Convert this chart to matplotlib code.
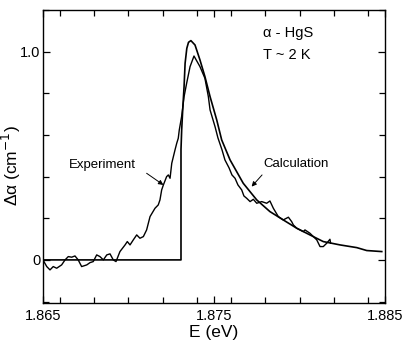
import matplotlib
matplotlib.use("Agg")
import matplotlib.pyplot as plt
from matplotlib.ticker import MultipleLocator, FixedLocator

# measured spectrum (energy in eV, delta alpha in cm^-1)
exp_e = [1.86500, 1.86522, 1.86541, 1.86560, 1.86580, 1.86609, 1.86629, 1.86648,
         1.86668, 1.86687, 1.86706, 1.86726, 1.86756, 1.86775, 1.86794, 1.86814,
         1.86833, 1.86853, 1.86873, 1.86892, 1.86911, 1.86927, 1.86950, 1.86980,
         1.86993, 1.87009, 1.87028, 1.87048, 1.87067, 1.87087, 1.87106, 1.87126,
         1.87155, 1.87174, 1.87184, 1.87194, 1.87204, 1.87223, 1.87233, 1.87243,
         1.87253, 1.87272, 1.87282, 1.87291, 1.87297, 1.87311, 1.87325, 1.87340,
         1.87360, 1.87383, 1.87418, 1.87447, 1.87467, 1.87477, 1.87506, 1.87523,
         1.87547, 1.87564, 1.87588, 1.87605, 1.87623, 1.87640, 1.87662, 1.87675,
         1.87691, 1.87711, 1.87730, 1.87750, 1.87779, 1.87808, 1.87827, 1.87847,
         1.87876, 1.87905, 1.87935, 1.87954, 1.87964, 1.87984, 1.88022, 1.88032,
         1.88061, 1.88101, 1.88120, 1.88139, 1.88159, 1.88178, 1.88182]
exp_v = [0.000, -0.032, -0.048, -0.032, -0.040, -0.024, 0.000, 0.016,
         0.013, 0.019, 0.000, -0.032, -0.024, -0.013, -0.008, 0.024,
         0.016, 0.000, 0.024, 0.029, 0.000, -0.008, 0.040, 0.072,
         0.088, 0.072, 0.096, 0.120, 0.104, 0.112, 0.144, 0.208,
         0.248, 0.264, 0.288, 0.336, 0.360, 0.400, 0.408, 0.392,
         0.464, 0.528, 0.560, 0.584, 0.624, 0.690, 0.784, 0.848,
         0.928, 0.979, 0.928, 0.872, 0.784, 0.720, 0.640, 0.586,
         0.528, 0.480, 0.442, 0.408, 0.392, 0.360, 0.336, 0.307,
         0.296, 0.280, 0.291, 0.272, 0.280, 0.272, 0.283, 0.248,
         0.208, 0.192, 0.205, 0.184, 0.168, 0.152, 0.136, 0.144,
         0.128, 0.096, 0.064, 0.064, 0.080, 0.099, 0.080]

# calculated curve
calc_e = [1.86500, 1.87307, 1.87307, 1.87311, 1.87317, 1.87325, 1.87331, 1.87341,
          1.87351, 1.87365, 1.87389, 1.87418, 1.87447, 1.87477, 1.87516, 1.87545,
          1.87594, 1.87671, 1.87750, 1.87827, 1.87905, 1.87984, 1.88061, 1.88139,
          1.88237, 1.88335, 1.88393, 1.88481]
calc_v = [0.0, 0.0, 0.53, 0.624, 0.72, 0.832, 0.944, 1.016,
          1.045, 1.053, 1.032, 0.960, 0.880, 0.784, 0.672, 0.576,
          0.480, 0.368, 0.288, 0.232, 0.192, 0.152, 0.120, 0.088,
          0.072, 0.059, 0.045, 0.040]

x_ticks = [1.865, 1.875, 1.885]
x_labels = ["1.865", "1.875", "1.885"]
y_ticks = [0.0, 1.0]
y_labels = ["0", "1.0"]

plt.rcParams['font.family'] = ['Liberation Sans', 'DejaVu Sans']

fig = plt.figure(figsize=(4.04, 3.45), dpi=100)
ax = fig.add_axes([0.1064, 0.1217, 0.8466, 0.8493])

ax.plot(exp_e, exp_v, color='black', lw=1.0)
ax.plot(calc_e, calc_v, color='black', lw=1.2)

ax.set_xlim(1.865, 1.885)
ax.set_ylim(-0.207, 1.2)

ax.xaxis.set_major_locator(FixedLocator(x_ticks))
ax.set_xticklabels(x_labels)
ax.xaxis.set_minor_locator(MultipleLocator(0.002))
ax.yaxis.set_major_locator(FixedLocator(y_ticks))
ax.set_yticklabels(y_labels)
ax.yaxis.set_minor_locator(MultipleLocator(0.2))
ax.tick_params(which='both', direction='in', top=True, right=True,
               labelsize=10.5, width=0.9)
ax.tick_params(which='major', length=5)
ax.tick_params(which='minor', length=4)
ax.tick_params(axis='x', pad=4)
ax.tick_params(axis='y', pad=2)
for s in ax.spines.values():
    s.set_linewidth(1.0)

ax.set_xlabel("E (eV)", fontsize=12.5, labelpad=2)
ax.set_ylabel("Δα (cm$^{-1}$)", fontsize=12.5)
ax.yaxis.set_label_coords(-0.058, 0.47)

ax.text(1.87787, 1.09, "α - HgS", fontsize=10.5, va='center', ha='left')
ax.text(1.87787, 0.984, "T ~ 2 K", fontsize=10.5, va='center', ha='left')

ax.text(1.86845, 0.456, "Experiment", fontsize=9.5, ha='center', va='center')
ax.text(1.87980, 0.461, "Calculation", fontsize=9.5, ha='center', va='center')
arrow = dict(arrowstyle='-|>', color='black', lw=0.7, mutation_scale=7,
             shrinkA=0, shrinkB=0)
ax.annotate("", xy=(1.87204, 0.36), xytext=(1.87106, 0.416), arrowprops=arrow)
ax.annotate("", xy=(1.87720, 0.352), xytext=(1.87781, 0.408), arrowprops=arrow)

fig.savefig("out.png", dpi=100)
